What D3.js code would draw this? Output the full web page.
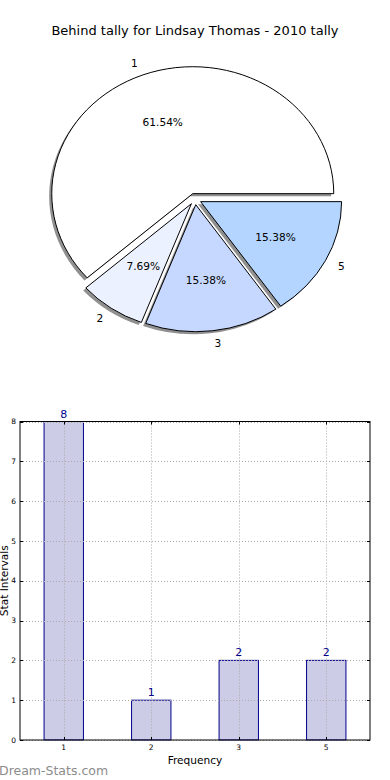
<!DOCTYPE html>
<html>
<head>
<meta charset="utf-8">
<script src="https://cdn.jsdelivr.net/npm/d3@7"></script>
<style>
  html, body { margin: 0; padding: 0; background: #fff; }
  svg { display: block; font-family: "DejaVu Sans", sans-serif; }
</style>
</head>
<body>
<svg id="chart" width="390" height="780"></svg>
<script>
// ---- data ----
const chartTitle = "Behind tally for Lindsay Thomas - 2010 tally";
const pieLabels = ["1", "2", "3", "5"];
const pieValues = [8, 1, 2, 2];
const pieColors = ["#ffffff", "#ebf1ff", "#c6d8ff", "#b3d5ff"];
const barCategories = ["1", "2", "3", "5"];
const barValues = [8, 1, 2, 2];
const yTickValues = [0, 1, 2, 3, 4, 5, 6, 7, 8];
const xAxisLabel = "Frequency";
const yAxisLabel = "Stat Intervals";
const watermark = "Dream-Stats.com";

const svg = d3.select("#chart");

// ---- title ----
svg.append("text").attr("x", 195).attr("y", 35).attr("text-anchor", "middle")
  .attr("font-size", 13).attr("fill", "#000").text(chartTitle);

// ---- pie (elliptical, exploded, shadowed) ----
const cx = 195, cy = 199, rx = 141, ry = 127, explode = 0.045;
const total = d3.sum(pieValues);
const pie = d3.pie().sort(null).value(d => d)
  .startAngle(Math.PI / 2).endAngle(Math.PI / 2 - 2 * Math.PI);
const arcs = pie(pieValues);
const arcGen = d3.arc().innerRadius(0).outerRadius(1);
const pieG = svg.append("g");

function centerOf(a) {
  const m = (a.startAngle + a.endAngle) / 2;
  return { m, px: cx + explode * rx * Math.sin(m), py: cy - explode * ry * Math.cos(m) };
}
arcs.forEach((a, i) => {
  const { px, py } = centerOf(a);
  pieG.append("path").attr("d", arcGen(a))
    .attr("transform", `translate(${px - 2.6},${py + 2.6}) scale(${rx},${ry})`)
    .attr("fill", "#222").attr("fill-opacity", 0.5).attr("stroke", "none");
});
arcs.forEach((a, i) => {
  const { px, py } = centerOf(a);
  pieG.append("path").attr("d", arcGen(a))
    .attr("transform", `translate(${px},${py}) scale(${rx},${ry})`)
    .attr("fill", pieColors[i]).attr("stroke", "#000").attr("stroke-width", 1)
    .attr("vector-effect", "non-scaling-stroke").attr("stroke-linejoin", "miter");
});
arcs.forEach((a, i) => {
  const { m, px, py } = centerOf(a);
  const lx = px + 1.1 * rx * Math.sin(m), ly = py - 1.1 * ry * Math.cos(m);
  svg.append("text").attr("x", lx).attr("y", ly).attr("dy", "0.35em")
    .attr("text-anchor", Math.sin(m) > 0 ? "start" : "end")
    .attr("font-size", 10.6).text(pieLabels[i]);
  const tx = px + 0.6 * rx * Math.sin(m), ty = py - 0.6 * ry * Math.cos(m);
  svg.append("text").attr("x", tx).attr("y", ty).attr("dy", "0.35em")
    .attr("text-anchor", "middle").attr("font-size", 10.6)
    .text((100 * pieValues[i] / total).toFixed(2) + "%");
});

// ---- bar chart ----
const L = 20, R = 370, T = 421.5, B = 740;
const x = d3.scalePoint().domain(barCategories).range([L, R]).padding(0.5);
const y = d3.scaleLinear().domain([0, 8]).range([B, T]);
const bw = x.step() * 0.45;
const barG = svg.append("g");

barG.selectAll("rect.bar").data(barValues).join("rect").attr("class", "bar")
  .attr("x", (d, i) => x(barCategories[i]) - bw / 2)
  .attr("y", d => y(d)).attr("width", bw).attr("height", d => B - y(d))
  .attr("fill", "#ccccE6").attr("stroke", "#00008b").attr("stroke-width", 1);

// grid
const grid = svg.append("g").attr("stroke", "#aaa").attr("stroke-width", 1)
  .attr("stroke-dasharray", "1,2");
yTickValues.forEach(v => {
  grid.append("line").attr("x1", L).attr("x2", R).attr("y1", Math.round(y(v)) + 0.5).attr("y2", Math.round(y(v)) + 0.5);
});
barCategories.forEach(c => {
  grid.append("line").attr("x1", Math.round(x(c)) + 0.5).attr("x2", Math.round(x(c)) + 0.5).attr("y1", T).attr("y2", B);
});

// frame
svg.append("rect").attr("x", L).attr("y", T).attr("width", R - L).attr("height", B - T)
  .attr("fill", "none").attr("stroke", "#000").attr("stroke-width", 1);

// ticks (inside)
const tk = svg.append("g").attr("stroke", "#000").attr("stroke-width", 1);
yTickValues.forEach(v => {
  const yy = Math.round(y(v)) + 0.5;
  tk.append("line").attr("x1", L).attr("x2", L + 3).attr("y1", yy).attr("y2", yy);
  tk.append("line").attr("x1", R - 3).attr("x2", R).attr("y1", yy).attr("y2", yy);
});
barCategories.forEach(c => {
  const xx = Math.round(x(c)) + 0.5;
  tk.append("line").attr("x1", xx).attr("x2", xx).attr("y1", B).attr("y2", B - 3);
  tk.append("line").attr("x1", xx).attr("x2", xx).attr("y1", T).attr("y2", T + 3);
});

// tick labels
yTickValues.forEach(v => {
  svg.append("text").attr("x", 16).attr("y", y(v)).attr("dy", "0.35em")
    .attr("text-anchor", "end").attr("font-size", 7.5).text(v);
});
barCategories.forEach(c => {
  svg.append("text").attr("x", x(c)).attr("y", B + 10).attr("text-anchor", "middle")
    .attr("font-size", 7.5).text(c);
});

// value labels
barValues.forEach((v, i) => {
  svg.append("text").attr("x", x(barCategories[i])).attr("y", y(v) - 4)
    .attr("text-anchor", "middle").attr("font-size", 11).attr("fill", "#00008b").text(v);
});

// axis labels
svg.append("text").attr("x", (L + R) / 2).attr("y", 764).attr("text-anchor", "middle")
  .attr("font-size", 10.6).text(xAxisLabel);
svg.append("text").attr("transform", `translate(8,${(T + B) / 2}) rotate(-90)`)
  .attr("text-anchor", "middle").attr("font-size", 10.6).text(yAxisLabel);

// watermark
svg.append("text").attr("x", -1).attr("y", 775).attr("font-size", 12.5)
  .attr("fill", "#8c8c8c").text(watermark);
</script>
</body>
</html>
